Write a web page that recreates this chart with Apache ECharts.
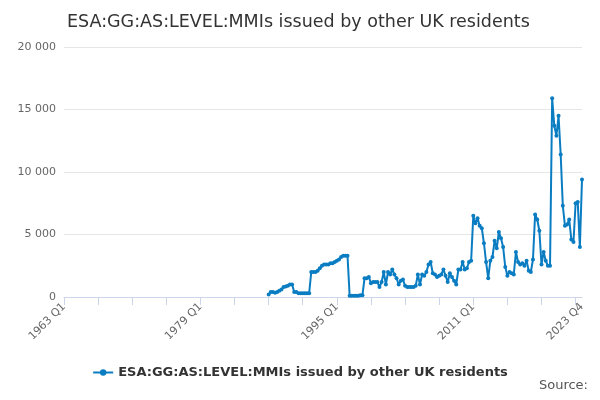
<!DOCTYPE html>
<html>
<head>
<meta charset="utf-8">
<script src="https://cdn.jsdelivr.net/npm/echarts@6/dist/echarts.min.js"></script>
<style>html,body{margin:0;padding:0}#chart{width:600px;height:400px}</style>
</head>
<body>
<div id="chart"></div>
<script>
// quarters 1963 Q1 .. 2023 Q4
const categories = []
for (let y = 1963; y <= 2023; y++) for (let q = 1; q <= 4; q++) categories.push(y + ' Q' + q)

// values from 1987 Q1 onwards, earlier quarters empty
const firstQuarter = '1987 Q1'
const values = [
  200, 400, 400, 350, 400, 500, 600, 800, 850, 900, 1000, 1000,
  400, 400, 300, 300, 300, 300, 300, 300,
  2000, 2000, 2000, 2100, 2300, 2500, 2600, 2600, 2600, 2700, 2700, 2800,
  2900, 3000, 3200, 3300, 3300, 3300, 100, 100, 100, 100, 100, 150,
  150, 1500, 1500, 1600, 1100, 1200, 1200, 1200, 800, 1200, 2000, 1000,
  2000, 1800, 2200, 1800, 1500, 1000, 1300, 1400, 900, 800, 800, 800,
  800, 900, 1800, 1000, 1800, 1700, 2000, 2600, 2800, 1900, 1800, 1600,
  1700, 1800, 2200, 1700, 1200, 1900, 1600, 1300, 1000, 2200, 2200, 2800,
  2200, 2300, 2800, 2900, 6500, 5900, 6300, 5700, 5500, 4300, 2800, 1500,
  2900, 3200, 4500, 3900, 5200, 4700, 4000, 2400, 1700, 2000, 1900, 1800,
  3600, 2800, 2600, 2700, 2500, 2900, 2100, 2000, 3000, 6600, 6200, 5300,
  2600, 3600, 2900, 2500, 2500, 15900, 13700, 12900, 14500, 11400, 7300, 5700,
  5800, 6200, 4600, 4400, 7500, 7600, 4000, 9400
]
const seriesName = 'ESA:GG:AS:LEVEL:MMIs issued by other UK residents'
const yTicks = [0, 5000, 10000, 15000, 20000]

const start = categories.indexOf(firstQuarter)
const seriesData = categories.map((c, i) => (i >= start && i - start < values.length) ? values[i - start] : null)
const labelIdx = [0, 64, 128, 192, categories.length - 1]

const chart = echarts.init(document.getElementById('chart'))
chart.setOption({
  animation: false,
  textStyle: { fontFamily: 'DejaVu Sans' },
  title: { text: 'ESA:GG:AS:LEVEL:MMIs issued by other UK residents', left: 62, top: 8,
    textStyle: { fontSize: 17.5, fontWeight: 'normal', color: '#333' } },
  legend: { bottom: 16, left: 'center', itemWidth: 20, itemHeight: 8,
    textStyle: { fontSize: 13, fontWeight: 'bold', color: '#333' } },
  graphic: [{ type: 'text', right: 12, bottom: 8, style: { text: 'Source:', fontSize: 13, fill: '#555', fontFamily: 'DejaVu Sans' } }],
  grid: { left: 64, right: 18, top: 47, bottom: 103 },
  xAxis: {
    type: 'category', data: categories, boundaryGap: false,
    axisLine: { lineStyle: { color: '#ccd6eb' } },
    axisTick: { interval: (i) => i % 16 === 0, lineStyle: { color: '#ccd6eb' }, length: 8 },
    axisLabel: { interval: (i) => labelIdx.includes(i), rotate: 45, color: '#666', fontSize: 11, showMaxLabel: true }
  },
  yAxis: {
    type: 'value', min: 0, max: 20000, interval: 5000,
    axisLabel: { color: '#666', fontSize: 11, formatter: v => yTicks.includes(v) ? String(v).replace(/\B(?=(\d{3})+(?!\d))/g, ' ') : '' },
    splitLine: { lineStyle: { color: '#e6e6e6' } }
  },
  series: [{
    name: seriesName, type: 'line', data: seriesData, connectNulls: false,
    symbol: 'circle', symbolSize: 4, showAllSymbol: true,
    itemStyle: { color: '#0a7dc2' }, lineStyle: { width: 2, color: '#0a7dc2' }
  }]
})
</script>
</body>
</html>
